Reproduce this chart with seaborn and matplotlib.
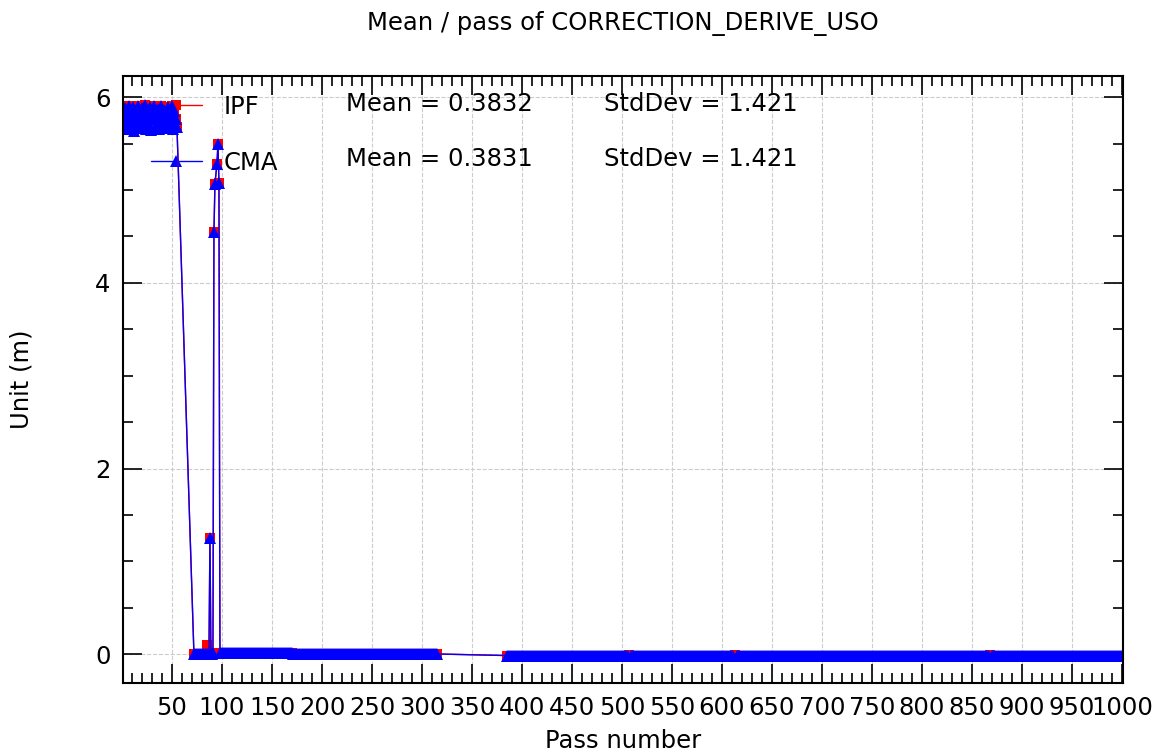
import numpy as np
import pandas as pd
import matplotlib
matplotlib.use('Agg')
import matplotlib.pyplot as plt
from matplotlib.ticker import MultipleLocator
import seaborn as sns

# passes 1..55 : the high plateau at the start
early_values = [5.78, 5.70, 5.88, 5.66, 5.84, 5.73, 5.91, 5.68, 5.80, 5.75,
                5.89, 5.64, 5.86, 5.71, 5.79, 5.90, 5.67, 5.83, 5.74, 5.88,
                5.69, 5.81, 5.92, 5.66, 5.77, 5.85, 5.70, 5.89, 5.65, 5.82,
                5.76, 5.90, 5.68, 5.84, 5.72, 5.87, 5.66, 5.80, 5.91, 5.70,
                5.78, 5.86, 5.67, 5.83, 5.74, 5.89, 5.69, 5.81, 5.73, 5.90,
                5.66, 5.85, 5.71, 5.76, 5.68]

# spike passes around 88-97
spike_passes = [88, 89, 90, 91, 92, 93, 95, 96, 97]
spike_values = [1.25, 0.0, 0.0, 0.01, 4.55, 5.07, 5.28, 5.50, 5.08]

# flat runs of passes close to zero (start, end, level)
flat_start = [72, 98, 171, 385, 509, 615, 870]
flat_end = [87, 170, 315, 506, 611, 867, 1000]
flat_level = [0.0, 0.015, 0.003, -0.015, -0.015, -0.015, -0.015]

# points only present in IPF
ipf_only_passes = [85, 507, 613, 868]
ipf_only_values = [0.10, -0.005, -0.005, -0.005]

ipf_stats = 'Mean = 0.3832', 'StdDev = 1.421'
cma_stats = 'Mean = 0.3831', 'StdDev = 1.421'


def build_series(extra_passes=(), extra_values=()):
    passes = list(range(1, len(early_values) + 1))
    values = list(early_values)
    for s, e, lv in zip(flat_start, flat_end, flat_level):
        p = list(range(s, e + 1))
        passes += p
        values += [lv] * len(p)
    passes += spike_passes
    values += spike_values
    df = pd.DataFrame({'pass': passes, 'value': values})
    if len(extra_passes):
        extra = pd.DataFrame({'pass': list(extra_passes), 'value': list(extra_values)})
        df = df[~df['pass'].isin(extra_passes)]
        df = pd.concat([df, extra])
    return df.sort_values('pass').reset_index(drop=True)


ipf = build_series(ipf_only_passes, ipf_only_values)
cma = build_series()

sns.set_style('ticks')
plt.rcParams['font.family'] = ['DejaVu Sans']
plt.rcParams['text.color'] = 'black'
plt.rcParams['axes.labelcolor'] = 'black'
plt.rcParams['xtick.color'] = 'black'
plt.rcParams['ytick.color'] = 'black'
plt.rcParams['axes.edgecolor'] = 'black'

fs = 17.5

fig = plt.figure(figsize=(11.6, 7.51), dpi=100)
ax = fig.add_axes([0.106, 0.0905, 0.862, 0.8085])

sns.lineplot(data=ipf, x='pass', y='value', color='red', marker='s',
             markersize=7, markeredgewidth=0, linewidth=1, label='IPF',
             sort=False, ax=ax)
sns.lineplot(data=cma, x='pass', y='value', color='blue', marker='^',
             markersize=8, markeredgewidth=0, linewidth=1, label='CMA',
             sort=False, ax=ax)

ax.set_xlim(1, 1001)
ax.set_ylim(-0.31, 6.23)
ax.xaxis.set_major_locator(MultipleLocator(50))
ax.xaxis.set_minor_locator(MultipleLocator(10))
ax.yaxis.set_major_locator(MultipleLocator(2))
ax.yaxis.set_minor_locator(MultipleLocator(0.5))
ax.tick_params(which='both', direction='in', top=True, right=True, labelsize=fs)
ax.tick_params(which='major', length=14, width=1.2, pad=9)
ax.tick_params(which='minor', length=7, width=1.2)
ax.grid(True, which='major', linestyle='--', color='#cccccc', linewidth=0.8)
for sp in ax.spines.values():
    sp.set_linewidth(1.5)

ax.set_xlabel('Pass number', fontsize=fs, labelpad=7)
ax.set_ylabel('Unit (m)', fontsize=fs, labelpad=44)
ax.set_title('Mean / pass of CORRECTION_DERIVE_USO', fontsize=fs, pad=33)

leg = ax.legend(loc='upper left', bbox_to_anchor=(0.006, 1.005), frameon=False,
                fontsize=fs, handlelength=2.1, handletextpad=0.9, labelspacing=1.32)
leg.set_zorder(1)

for row_y, stats in zip([0.954, 0.863], [ipf_stats, cma_stats]):
    ax.text(0.223, row_y, stats[0], transform=ax.transAxes, fontsize=fs, va='center')
    ax.text(0.481, row_y, stats[1], transform=ax.transAxes, fontsize=fs, va='center')

fig.savefig('out.png', dpi=100)
